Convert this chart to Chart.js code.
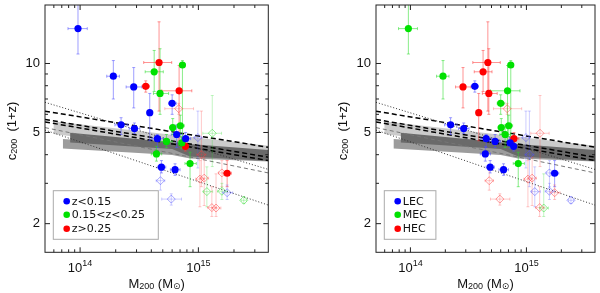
<!DOCTYPE html>
<html>
<head>
<meta charset="utf-8">
<script src="https://cdn.jsdelivr.net/npm/chart.js@4"></script>
<style>
body{margin:0;background:#fff;}
#wrap{position:relative;width:600px;height:293px;}
.pan{position:absolute;top:0;width:300px;height:293px;}
</style>
</head>
<body>
<div id="wrap">
  <div class="pan" style="left:0"><canvas id="c1"></canvas></div>
  <div class="pan" style="left:300px"><canvas id="c2"></canvas></div>
</div>
<script>
// rango de los ejes (log-log)
var xMin = 5.05e13, xMax = 3.9e15, yMin = 1.5, yMax = 18;

// ticks
var xMajorTicks = [1e14, 1e15];
var xMinorTicks = [6e13, 7e13, 8e13, 9e13, 2e14, 3e14, 4e14, 5e14, 6e14, 7e14, 8e14, 9e14, 2e15, 3e15];
var xTickLabels = [['10', '14'], ['10', '15']];
var yMajorTicks = [2, 5, 10];
var yMinorTicks = [3, 4, 6, 7, 8, 9];
var yTickLabels = ['2', '5', '10'];

// cumulos: masa M200, concentracion c200(1+z) y sus errores
var mass = [9.6e13, 1.91e14, 2.84e14, 3.88e14, 2.22e14, 2.88e14, 4.5e14, 6.0e14, 6.55e14, 7.8e14, 4.87e14, 6.35e14,
            4.23e14, 7.33e14, 4.74e14, 6.07e14, 7.04e14, 5.37e14, 4.42e14, 8.5e14, 7.24e14,
            4.65e14, 3.59e14, 6.87e14, 7.76e14, 1.75e15,
            6.82e14, 4.78e14, 5.9e14, 9.9e14, 1.31e15, 1.06e15, 1.03e15, 1.12e15, 1.58e15, 1.18e15, 1.58e15, 1.75e15, 2.42e15, 1.30e15, 1.41e15];
var conc = [14.2, 8.8, 7.9, 6.1, 5.4, 5.2, 4.7, 6.7, 4.9, 4.7, 3.53, 3.44,
            9.2, 9.85, 7.4, 5.25, 5.35, 4.57, 4.03, 3.66, 4.5,
            10.1, 7.95, 7.6, 4.35, 3.32,
            6.35, 3.08, 2.56, 4.75, 4.96, 4.0, 3.13, 3.16, 3.33, 2.76, 2.77, 2.73, 2.53, 2.35, 2.34];
var massLo = [7.9e13, 1.68e14, 2.45e14, 3.7e14, 1.97e14, 2.6e14, 4.05e14, 5.6e14, 5.9e14, 7.2e14, 4.5e14, 5.8e14,
              3.55e14, 7.0e14, 4.17e14, 5.7e14, 6.6e14, 4.8e14, 4.0e14, 7.7e14, 6.9e14,
              3.45e14, 3.35e14, 4.9e14, 7.4e14, 1.62e15,
              5.2e14, 4.4e14, 4.9e14, 9.2e14, 1.09e15, 9.7e14, 9.5e14, 1.03e15, 1.48e15, 1.1e15, 1.45e15, 1.6e15, 2.3e15, 1.2e15, 1.3e15];
var massHi = [1.15e14, 2.15e14, 3.33e14, 4.1e14, 2.53e14, 3.2e14, 5.05e14, 6.5e14, 7.3e14, 8.6e14, 5.3e14, 7.0e14,
              5.05e14, 7.7e14, 5.6e14, 6.4e14, 7.6e14, 6.0e14, 4.9e14, 9.6e14, 7.6e14,
              5.95e14, 3.85e14, 8.8e14, 8.2e14, 1.9e15,
              9.1e14, 5.2e14, 7.2e14, 1.07e15, 1.57e15, 1.16e15, 1.12e15, 1.22e15, 1.7e15, 1.32e15, 1.75e15, 1.95e15, 2.55e15, 1.42e15, 1.55e15];
var concLo = [11.0, 7.0, 6.4, 4.6, 4.9, 4.95, 4.3, 6.0, 4.3, 4.4, 3.33, 3.25,
              7.55, 4.3, 6.0, 4.9, 4.8, 4.3, 3.75, 2.9, 4.25,
              6.2, 7.5, 4.6, 4.15, 2.9,
              6.0, 2.8, 2.41, 3.5, 3.55, 2.9, 2.37, 2.4, 2.9, 2.37, 2.55, 2.55, 2.45, 2.15, 2.15];
var concHi = [19, 10.3, 9.6, 7.4, 5.8, 5.5, 4.9, 7.3, 5.4, 5.0, 3.77, 3.65,
              11.4, 10.3, 11.6, 5.75, 5.95, 4.9, 4.35, 4.1, 4.75,
              15.2, 8.4, 9.8, 4.55, 3.77,
              6.7, 3.47, 2.7, 6.2, 7.25, 6.2, 3.77, 3.9, 3.77, 3.54, 3.0, 2.95, 2.62, 2.9, 3.3];
// clase en redshift (panel izq) y en exceso de concentracion (panel dcho): 0 azul, 1 verde, 2 rojo
var zBin  = [0,0,0,0,0,0,0,0,0,0,0,0, 1,1,1,1,1,1,1,1,1, 2,2,2,2,2, 2,0,0,0,1,2,2,2,2,1,1,0,1,2,2];
var ecBin = [1,1,2,2,0,0,0,1,1,2,0,0, 2,1,2,1,1,0,0,1,0, 2,0,1,0,0, 2,2,2,0,2,0,2,2,0,0,0,2,0,2,1];
var isOpen = [0,0,0,0,0,0,0,0,0,0,0,0, 0,0,0,0,0,0,0,0,0, 0,0,0,0,0, 1,1,1,1,1,1,1,1,1,1,1,1,1,1,1];

var zLabels = ['z<0.15', '0.15<z<0.25', 'z>0.25'];
var ecLabels = ['LEC', 'MEC', 'HEC'];

// relaciones c-M teoricas (lineas)
var lineX = [5.05e13, 3.9e15];
var dot1  = [6.77, 3.45];
var dash1 = [6.19, 4.31];
var dash2 = [5.70, 3.90];
var dash3 = [5.56, 3.77];
var dash4 = [5.25, 3.33];
var dot2  = [5.12, 2.41];

// bandas de simulaciones
var lightX = [5.95e13, 3.9e15];
var lightHi = [5.6, 4.38];
var lightLo = [4.92, 3.75];
var midX = [7.14e13, 6.0e14, 8.5e14, 3.9e15];
var midHi = [4.68, 4.34, 4.16, 4.05];
var midLo = [4.26, 3.99, 3.85, 3.74];
var darkX = [8.23e13, 6.0e14, 8.5e14, 3.9e15];
var darkHi = [4.99, 4.53, 4.45, 4.19];
var darkLo = [4.52, 4.24, 3.93, 3.75];

var binColors = ['rgb(0,0,255)', 'rgb(0,225,0)', 'rgb(255,0,0)'];
var barColors = ['rgba(80,80,255,0.55)', 'rgba(40,220,40,0.55)', 'rgba(255,60,60,0.55)'];
var openColors = ['rgba(80,80,255,0.5)', 'rgba(40,220,40,0.5)', 'rgba(255,60,60,0.5)'];
var openBarColors = ['rgba(80,80,255,0.28)', 'rgba(40,220,40,0.28)', 'rgba(255,60,60,0.28)'];

function xy(xs, ys){
    var d = [];
    for (var i = 0; i < xs.length; i++) d.push({x: xs[i], y: ys[i]});
    return d;
}

function pointSets(bins){
    var sets = [];
    [0, 1].forEach(function(open){
        binColors.forEach(function(col, k){
            var pts = [];
            for (var i = 0; i < mass.length; i++){
                if (bins[i] === k && isOpen[i] === open) pts.push({x: mass[i], y: conc[i]});
            }
            sets.push({
                type: 'scatter', kind: 'pts', data: pts,
                pointStyle: open ? 'rectRot' : 'circle',
                pointRadius: open ? 4 : 3.6,
                backgroundColor: open ? 'rgba(255,255,255,0)' : col,
                borderColor: open ? openColors[k] : col,
                borderWidth: open ? 1 : 0,
                order: open ? 1 : 0
            });
        });
    });
    return sets;
}

function lineSet(ys, col, w, dash){
    return {type: 'line', data: xy(lineX, ys), borderColor: col, borderWidth: w, borderDash: dash,
            pointRadius: 0, fill: false, order: 5};
}

function bandSets(xs, hi, lo, col, ord){
    return [
        {type: 'line', data: xy(xs, hi), borderColor: 'rgba(0,0,0,0)', backgroundColor: col, pointRadius: 0, fill: '+1', order: ord},
        {type: 'line', data: xy(xs, lo), borderColor: 'rgba(0,0,0,0)', pointRadius: 0, fill: false, order: ord}
    ];
}

// barras de error, antes de los puntos
var errBars = {
    id: 'errBars',
    beforeDatasetsDraw: function(chart){ chart.$ebDone = false; },
    beforeDatasetDraw: function(chart, args, opts){
        if (chart.$ebDone || chart.data.datasets[args.index].kind !== 'pts') return;
        chart.$ebDone = true;
        var ctx = chart.ctx, a = chart.chartArea, sx = chart.scales.x, sy = chart.scales.y;
        ctx.save();
        ctx.beginPath();
        ctx.rect(a.left, a.top, a.right - a.left, a.bottom - a.top);
        ctx.clip();
        ctx.lineWidth = 1;
        for (var i = 0; i < mass.length; i++){
            var k = opts.bins[i];
            ctx.strokeStyle = isOpen[i] ? openBarColors[k] : barColors[k];
            var px = sx.getPixelForValue(mass[i]), py = sy.getPixelForValue(conc[i]);
            var x0 = sx.getPixelForValue(massLo[i]), x1 = sx.getPixelForValue(massHi[i]);
            var y0 = sy.getPixelForValue(concLo[i]), y1 = sy.getPixelForValue(concHi[i]);
            ctx.beginPath();
            ctx.moveTo(x0, py); ctx.lineTo(x1, py);
            ctx.moveTo(px, y0); ctx.lineTo(px, y1);
            ctx.moveTo(x0, py - 1.5); ctx.lineTo(x0, py + 1.5);
            ctx.moveTo(x1, py - 1.5); ctx.lineTo(x1, py + 1.5);
            ctx.moveTo(px - 1.5, y0); ctx.lineTo(px + 1.5, y0);
            ctx.moveTo(px - 1.5, y1); ctx.lineTo(px + 1.5, y1);
            ctx.stroke();
        }
        ctx.restore();
    }
};

function rich(ctx, parts, x, y, align){
    var w = 0;
    parts.forEach(function(p){ ctx.font = p[1] + 'px "Liberation Sans", "DejaVu Sans"'; w += ctx.measureText(p[0]).width; });
    var cx = align === 'center' ? x - w / 2 : (align === 'right' ? x - w : x);
    parts.forEach(function(p){
        ctx.font = p[1] + 'px "Liberation Sans", "DejaVu Sans"';
        ctx.fillText(p[0], cx, y + (p[2] || 0));
        cx += ctx.measureText(p[0]).width;
    });
}

// marco, ticks hacia dentro, etiquetas y leyenda
var deco = {
    id: 'deco',
    afterDraw: function(chart, args, opts){
        var ctx = chart.ctx, a = chart.chartArea, sx = chart.scales.x, sy = chart.scales.y;
        ctx.save();
        ctx.strokeStyle = '#222';
        ctx.fillStyle = '#111';
        ctx.lineWidth = 1;
        ctx.strokeRect(a.left, a.top, a.right - a.left, a.bottom - a.top);
        ctx.beginPath();
        xMajorTicks.concat(xMinorTicks).forEach(function(v){
            var p = sx.getPixelForValue(v), L = xMajorTicks.indexOf(v) >= 0 ? 5 : 3;
            ctx.moveTo(p, a.bottom); ctx.lineTo(p, a.bottom - L);
            ctx.moveTo(p, a.top); ctx.lineTo(p, a.top + L);
        });
        yMajorTicks.concat(yMinorTicks).forEach(function(v){
            var p = sy.getPixelForValue(v), L = yMajorTicks.indexOf(v) >= 0 ? 5 : 3;
            ctx.moveTo(a.left, p); ctx.lineTo(a.left + L, p);
            ctx.moveTo(a.right, p); ctx.lineTo(a.right - L, p);
        });
        ctx.stroke();

        ctx.textBaseline = 'middle';
        yMajorTicks.forEach(function(v, i){
            rich(ctx, [[yTickLabels[i], 13]], a.left - 5, sy.getPixelForValue(v), 'right');
        });
        xMajorTicks.forEach(function(v, i){
            rich(ctx, [[xTickLabels[i][0], 13], [xTickLabels[i][1], 9, -5]], sx.getPixelForValue(v), a.bottom + 16, 'center');
        });
        rich(ctx, [['M', 13], ['200', 9, 3], [' (M', 13], ['\u2299', 9, 3], [')', 13]], (a.left + a.right) / 2, 284, 'center');
        ctx.save();
        ctx.translate(a.left - 33, 131);
        ctx.rotate(-Math.PI / 2);
        rich(ctx, [['c', 13], ['200', 9, 3], ['  (1+z)', 13]], 0, 0, 'center');
        ctx.restore();

        // leyenda
        var bx = a.left + 8.3, by = 190.7, bw = opts.legendW, bh = 48.6;
        ctx.fillStyle = '#fff';
        ctx.fillRect(bx, by, bw, bh);
        ctx.strokeStyle = '#aaa';
        ctx.strokeRect(bx, by, bw, bh);
        var rows = [10.6, 24, 38];
        opts.labels.forEach(function(t, k){
            ctx.fillStyle = binColors[k];
            ctx.beginPath();
            ctx.arc(bx + 13.4, by + rows[k], 3.3, 0, Math.PI * 2);
            ctx.fill();
            ctx.fillStyle = '#111';
            ctx.font = '11px "DejaVu Sans"';
            ctx.fillText(t, bx + 18.5, by + rows[k] + 0.5);
        });
        ctx.restore();
    }
};

function crearPanel(id, bins, labels, pad, legendW){
    var datasets = pointSets(bins).concat([
        lineSet(dot1, '#333', 1, [1, 2]),
        lineSet(dash1, '#000', 1.5, [5, 3]),
        lineSet(dash2, '#000', 1.5, [5, 3]),
        lineSet(dash3, '#000', 1.5, [5, 3]),
        lineSet(dash4, '#777', 1, [4, 3]),
        lineSet(dot2, '#333', 1, [1, 2])
    ]).concat(bandSets(darkX, darkHi, darkLo, '#6a6a6a', 6))
      .concat(bandSets(midX, midHi, midLo, '#9c9c9c', 7))
      .concat(bandSets(lightX, lightHi, lightLo, '#cbcbcb', 8));

    new Chart(document.getElementById(id), {
        type: 'scatter',
        data: {datasets: datasets},
        options: {
            responsive: true, maintainAspectRatio: false, animation: false, events: [],
            layout: {padding: pad},
            plugins: {
                legend: {display: false}, tooltip: {enabled: false},
                errBars: {bins: bins},
                deco: {labels: labels, legendW: legendW}
            },
            scales: {
                x: {type: 'logarithmic', min: xMin, max: xMax, display: false},
                y: {type: 'logarithmic', min: yMin, max: yMax, display: false}
            }
        },
        plugins: [errBars, deco]
    });
}

crearPanel('c1', zBin, zLabels, {left: 45, right: 31.7, top: 2.7, bottom: 40.7}, 105);
crearPanel('c2', ecBin, ecLabels, {left: 76, right: 2.3, top: 2.7, bottom: 40.7}, 51.6);
</script>
</body>
</html>
